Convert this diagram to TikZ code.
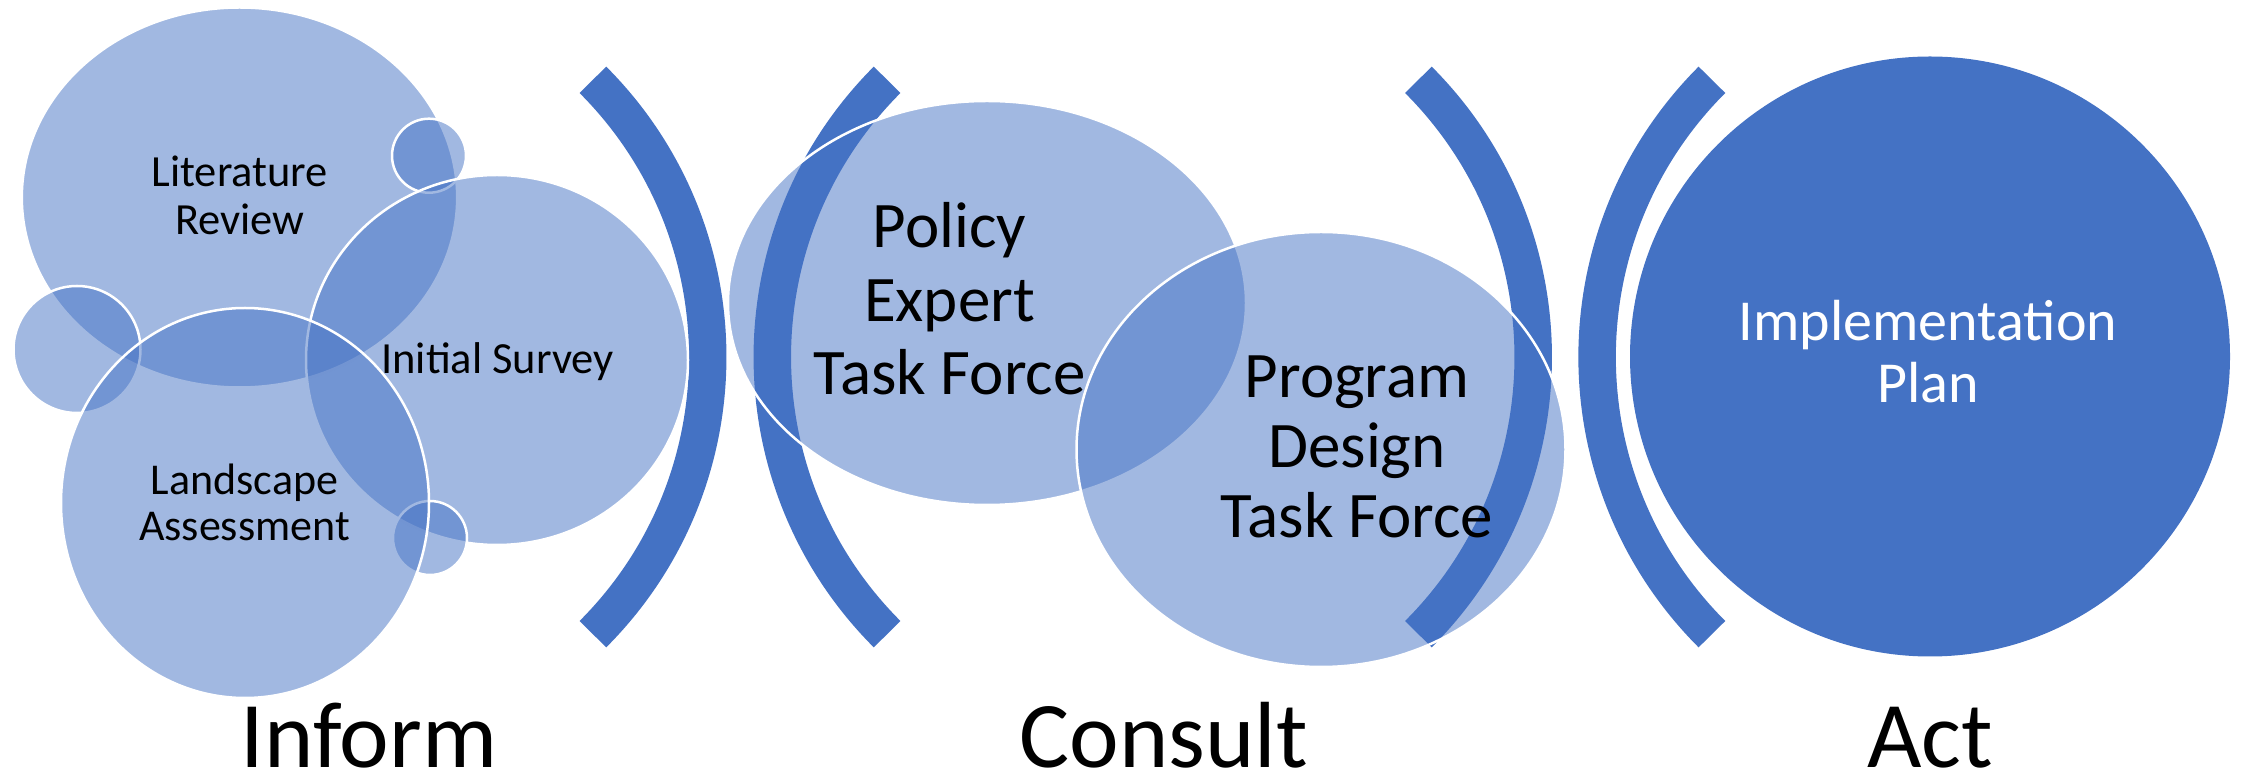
\documentclass[tikz,border=0pt]{standalone}
\usepackage{fontspec}
\setmainfont{Carlito}
\usetikzlibrary{shapes.geometric}
\definecolor{acc}{HTML}{4472C4}
\begin{document}
\begin{tikzpicture}[x=1pt,y=1pt,
  bubble/.style={ellipse, inner sep=0pt, fill=acc, fill opacity=0.5, draw=white, draw opacity=1, line width=2.5pt},
  bracket/.style={draw=acc, line width=37.5pt},
  lbl/.style={anchor=base, inner sep=0pt, text=black},
  small/.style={font=\fontsize{44.5}{48}\selectfont},
  mid/.style={font=\fontsize{65}{72}\selectfont},
  big/.style={font=\fontsize{94}{100}\selectfont},
]
\useasboundingbox (0,0) rectangle (2244,779);
% bracket arcs
\coordinate (a1) at (315.7,422);
\coordinate (a2) at (1164.3,422);
\coordinate (a3) at (1141.2,422);
\coordinate (a4) at (1989.1,422);
\draw[bracket] ([shift={(-45:392pt)}]a1) arc[start angle=-45,end angle=45,radius=392pt];
\draw[bracket] ([shift={(135:392pt)}]a2) arc[start angle=135,end angle=225,radius=392pt];
\draw[bracket] ([shift={(-45:392pt)}]a3) arc[start angle=-45,end angle=45,radius=392pt];
\draw[bracket] ([shift={(135:392pt)}]a4) arc[start angle=135,end angle=225,radius=392pt];
% Inform cluster
\node[bubble, minimum width=435.4pt, minimum height=380pt] (lit) at (239.5,581.5) {};
\node[bubble, minimum width=74pt, minimum height=74pt] (stop) at (429,623.3) {};
\node[bubble, minimum width=127pt, minimum height=127pt] (sleft) at (77,429.5) {};
\node[bubble, minimum width=382pt, minimum height=370pt] (init) at (497,419) {};
\node[bubble, minimum width=74pt, minimum height=74pt] (sbot) at (430,241) {};
\node[bubble, minimum width=368pt, minimum height=390pt] (land) at (245,276) {};
% Consult cluster
\node[bubble, minimum width=518pt, minimum height=404pt] (pol) at (987,476) {};
\node[bubble, minimum width=489pt, minimum height=435pt] (prog) at (1321,329.5) {};
% Act
\node[circle, inner sep=0pt, fill=acc, minimum size=600pt] (impl) at (1930,422.5) {};
% labels
\node[lbl, small] (tlit) at (239.7,592.7) {\begin{tabular}[t]{@{}c@{}}Literature\\Review\end{tabular}};
\node[lbl, small] (tinit) at (497.6,405.4) {Initial Survey};
\node[lbl, small, font=\fontsize{44}{46}\selectfont] (tland) at (244.5,284) {\begin{tabular}[t]{@{}c@{}}Landscape\\Assessment\end{tabular}};
\node[lbl, mid, font=\fontsize{65}{73.5}\selectfont] (tpol) at (949.5,531) {\begin{tabular}[t]{@{}c@{}}Policy\\Expert\\Task Force\end{tabular}};
\node[lbl, mid, font=\fontsize{65}{70}\selectfont] (tprog) at (1357,381.6) {\begin{tabular}[t]{@{}c@{}}Program\\Design\\Task Force\end{tabular}};
\node[lbl, text=white, font=\fontsize{58}{62}\selectfont] (timpl) at (1928,438) {\begin{tabular}[t]{@{}c@{}}Implementation\\Plan\end{tabular}};
\node[lbl, big] (inform) at (369,11) {Inform};
\node[lbl, big] (consult) at (1164,11) {Consult};
\node[lbl, big] (act) at (1930,11) {Act};
\end{tikzpicture}
\end{document}
